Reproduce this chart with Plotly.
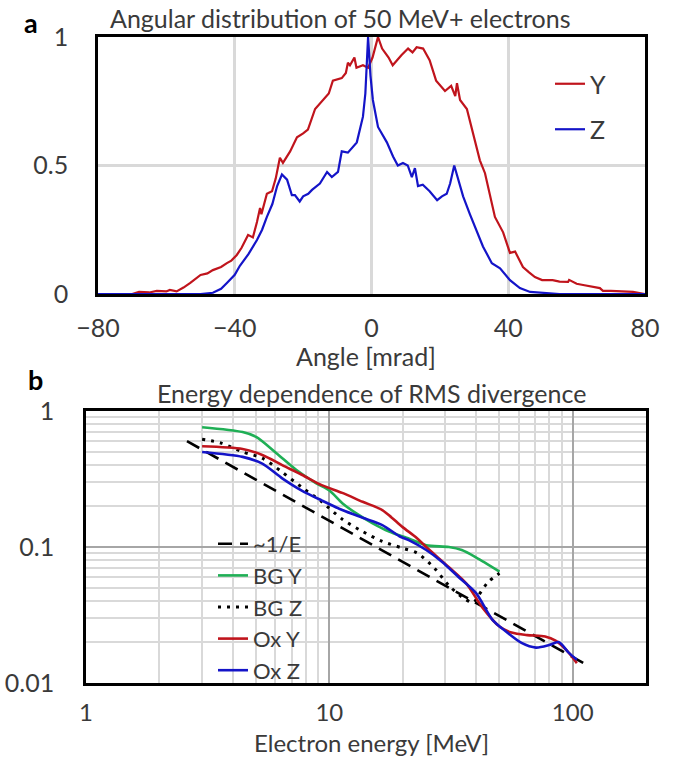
import math
import plotly.graph_objects as go

W, H = 677, 757

# ---------------- Panel a: angular distribution ----------------
angle_y = [-80, -70, -68, -65, -62.8, -60, -59, -57, -55, -53, -50, -48, -46.4, -44, -42.3, -41,
           -39.4, -38, -36.1, -34.7, -33.5, -32.6, -32.2, -30.6, -29.1, -28, -26.8, -25.9, -23.8,
           -21.8, -20, -18.6, -16.5, -14.2, -12.5, -11.3, -8.7, -7.5, -6.9, -6.3, -5, -4.4, -2.5,
           -1, 0.3, 1.9, 3.1, 5, 6.2, 8.8, 10.7, 12, 13.2, 15.1, 17, 18.9, 21.5, 23.3, 24.5, 25,
           25.9, 27.9, 29.7, 31.7, 33.2, 34.6, 36.1, 38.5, 40.5, 42, 44.3, 46, 47.8, 49.9, 53, 55,
           57.5, 57.8, 60, 61.9, 64, 66.8, 67.7, 70, 76.5, 80]
dist_y = [0, 0, 0.008, 0.006, 0.012, 0.01, 0.016, 0.01, 0.025, 0.043, 0.074, 0.08, 0.093, 0.105,
          0.12, 0.13, 0.152, 0.18, 0.23, 0.22, 0.28, 0.335, 0.31, 0.39, 0.40, 0.45, 0.53, 0.51,
          0.555, 0.61, 0.625, 0.64, 0.72, 0.755, 0.78, 0.83, 0.84, 0.86, 0.90, 0.89, 0.92, 0.88,
          0.89, 0.88, 0.92, 1.0, 0.955, 0.92, 0.89, 0.93, 0.955, 0.94, 0.96, 0.955, 0.91, 0.83,
          0.79, 0.81, 0.77, 0.82, 0.755, 0.72, 0.63, 0.52, 0.47, 0.39, 0.30, 0.24, 0.16, 0.165,
          0.105, 0.085, 0.066, 0.054, 0.054, 0.048, 0.047, 0.055, 0.04, 0.035, 0.03, 0.023, 0.012,
          0.012, 0.008, 0]

angle_z = [-80, -50, -46.4, -44, -42.3, -40, -38.5, -36, -33.5, -32, -30.6, -29, -27.6, -26.2,
           -24.7, -23.3, -22.4, -21, -20, -18.5, -17.4, -15.1, -13, -11.6, -9.8, -8.7, -6.9, -4.3,
           -2.5, -1.8, -1, -0.3, 0.4, 1.9, 4.5, 6.3, 7.7, 9.2, 10.6, 11.8, 12.7, 13.6, 15, 17, 19.2,
           20.6, 22, 23, 24.2, 25.3, 26.8, 28.8, 30.8, 32.6, 35.2, 37.6, 40.5, 43.4, 46.4, 52, 55, 80]
dist_z = [0, 0, 0.005, 0.02, 0.043, 0.075, 0.11, 0.155, 0.21, 0.25, 0.30, 0.35, 0.42, 0.465,
          0.445, 0.385, 0.385, 0.36, 0.38, 0.39, 0.405, 0.43, 0.475, 0.455, 0.475, 0.555, 0.55,
          0.59, 0.69, 0.78, 1.0, 0.85, 0.755, 0.65, 0.59, 0.535, 0.50, 0.51, 0.50, 0.455, 0.49,
          0.42, 0.425, 0.40, 0.365, 0.38, 0.39, 0.43, 0.50, 0.445, 0.38, 0.31, 0.24, 0.185, 0.12,
          0.10, 0.054, 0.023, 0.008, 0.003, 0, 0]

a_xticks = [-80, -40, 0, 40, 80]
a_yticks = [0, 0.5, 1]
a_yticktext = ["0", "0.5", "1"]

# ---------------- Panel b: RMS divergence vs energy ----------------
e_inv = [2.6, 115]
div_inv = [0.6, 0.0135]

e_bgy = [3, 4.4, 5.0, 6.06, 7.3, 8.8, 10, 11.3, 13, 15, 17.6, 21.3, 25, 31, 35, 40, 50]
div_bgy = [0.76, 0.70, 0.645, 0.49, 0.37, 0.295, 0.26, 0.21, 0.175, 0.15, 0.13, 0.115, 0.103,
           0.10, 0.095, 0.084, 0.066]

e_bgz = [3, 3.6, 4.4, 5.3, 6.4, 7.7, 9.3, 11.3, 13.7, 16.5, 20, 23, 27, 31, 35, 39, 41, 44.8, 50]
div_bgz = [0.62, 0.58, 0.50, 0.45, 0.355, 0.275, 0.215, 0.16, 0.13, 0.11, 0.098, 0.09, 0.07,
           0.052, 0.043, 0.039, 0.044, 0.055, 0.064]

e_oxy = [3, 4.4, 5.3, 6.4, 7.7, 9.3, 11.3, 13.7, 16.5, 18, 20, 22.8, 25, 31, 36.5, 42.5, 50, 56,
         65, 77, 85, 94, 104]
div_oxy = [0.55, 0.525, 0.475, 0.40, 0.34, 0.285, 0.25, 0.215, 0.187, 0.165, 0.14, 0.117, 0.10,
           0.071, 0.054, 0.036, 0.026, 0.0235, 0.0225, 0.022, 0.0205, 0.0175, 0.014]

e_oxz = [3, 4.4, 5.3, 6.4, 7.7, 9.3, 11.3, 13.7, 16.5, 19.4, 21.3, 25, 29, 34, 40, 46.9, 53, 61.6,
         70.6, 80, 87.5, 96, 104]
div_oxz = [0.50, 0.46, 0.41, 0.32, 0.26, 0.22, 0.187, 0.164, 0.145, 0.12, 0.112, 0.095, 0.078,
           0.06, 0.046, 0.029, 0.024, 0.0197, 0.0182, 0.019, 0.020, 0.0168, 0.0148]

b_xticks = [1, 10, 100]
b_xticktext = ["1", "10", "100"]
b_yticks = [0.01, 0.1, 1]
b_yticktext = ["0.01", "0.1", "1"]

# ---------------- styling ----------------
FONT = "Lato"
TXT = "#3a3a3a"
RED = "#C0141C"
BLUE = "#1414C8"
GREEN = "#1FAF55"
FS = 25
FS_LEG2 = 22


def px(x):
    return x / W


def py(y):
    return 1 - y / H


fig = go.Figure()

fig.add_trace(go.Scatter(x=angle_y, y=dist_y, mode="lines", name="Y",
                         line=dict(color=RED, width=2.2), xaxis="x", yaxis="y",
                         legend="legend", legendgroup="ay"))
fig.add_trace(go.Scatter(x=angle_z, y=dist_z, mode="lines", name="Z",
                         line=dict(color=BLUE, width=2.2), xaxis="x", yaxis="y",
                         legend="legend", legendgroup="az"))

fig.add_trace(go.Scatter(x=e_inv, y=div_inv, mode="lines", name="~1/E",
                         line=dict(color="black", width=2.6, dash="14px,8px"),
                         xaxis="x2", yaxis="y2", legend="legend2"))
fig.add_trace(go.Scatter(x=e_bgy, y=div_bgy, mode="lines", name="BG Y",
                         line=dict(color=GREEN, width=2.6, shape="spline", smoothing=0.8),
                         xaxis="x2", yaxis="y2", legend="legend2"))
fig.add_trace(go.Scatter(x=e_bgz, y=div_bgz, mode="lines", name="BG Z",
                         line=dict(color="black", width=3, dash="3px,6px", shape="spline",
                                   smoothing=0.8),
                         xaxis="x2", yaxis="y2", legend="legend2"))
fig.add_trace(go.Scatter(x=e_oxy, y=div_oxy, mode="lines", name="Ox Y",
                         line=dict(color=RED, width=2.6, shape="spline", smoothing=0.8),
                         xaxis="x2", yaxis="y2", legend="legend2"))
fig.add_trace(go.Scatter(x=e_oxz, y=div_oxz, mode="lines", name="Ox Z",
                         line=dict(color=BLUE, width=2.6, shape="spline", smoothing=0.8),
                         xaxis="x2", yaxis="y2", legend="legend2"))

tickfont = dict(family=FONT, size=FS, color=TXT)

fig.update_layout(
    width=W, height=H,
    margin=dict(l=0, r=0, t=0, b=0, autoexpand=False),
    paper_bgcolor="white", plot_bgcolor="white",
    font=dict(family=FONT, size=FS, color=TXT),
    xaxis=dict(domain=[px(98), px(645)], anchor="y", range=[-80, 80],
               tickmode="array", tickvals=a_xticks, tickfont=tickfont,
               showgrid=True, gridcolor="#D9D9D9", gridwidth=2.5, zeroline=False,
               showline=True, linecolor="black", linewidth=2.5, mirror=True,
               ticks="", ticklabelstandoff=10, automargin=False),
    yaxis=dict(domain=[py(294), py(37)], anchor="x", range=[0, 1],
               tickmode="array", tickvals=a_yticks, ticktext=a_yticktext, tickfont=tickfont,
               showgrid=True, gridcolor="#D9D9D9", gridwidth=2.5, zeroline=False,
               showline=True, linecolor="black", linewidth=2.5, mirror=True,
               ticks="", ticklabelstandoff=22, automargin=False),
    xaxis2=dict(domain=[px(86), px(646)], anchor="y2", type="log",
                range=[0, math.log10(200)],
                tickmode="array", tickvals=b_xticks, ticktext=b_xticktext,
                tickfont=dict(family=FONT, size=24, color=TXT),
                showgrid=True, gridcolor="#A6A6A6", gridwidth=1.6, zeroline=False,
                minor=dict(dtick="D1", showgrid=True, gridcolor="#D9D9D9", gridwidth=2,
                           ticks=""),
                showline=True, linecolor="black", linewidth=2.5, mirror=True,
                ticks="", ticklabelstandoff=6, automargin=False),
    yaxis2=dict(domain=[py(683), py(411)], anchor="x2", type="log", range=[-2, 0],
                tickmode="array", tickvals=b_yticks, ticktext=b_yticktext, tickfont=tickfont,
                showgrid=True, gridcolor="#A6A6A6", gridwidth=1.6, zeroline=False,
                minor=dict(dtick="D1", showgrid=True, gridcolor="#D9D9D9", gridwidth=2,
                           ticks=""),
                showline=True, linecolor="black", linewidth=2.5, mirror=True,
                ticks="", ticklabelstandoff=24, automargin=False),
    legend=dict(x=px(550), y=py(61), xanchor="left", yanchor="top",
                bgcolor="rgba(0,0,0,0)", font=dict(family=FONT, size=FS, color=TXT),
                tracegroupgap=10, itemclick=False),
    legend2=dict(x=px(213), y=py(523), xanchor="left", yanchor="top",
                 bgcolor="rgba(0,0,0,0)", font=dict(family=FONT, size=FS_LEG2, color=TXT),
                 tracegroupgap=0, itemclick=False),
    showlegend=True,
)

ann = [
    dict(text="<b>a</b>", x=px(31), y=py(22), size=27, color="black"),
    dict(text="Angular distribution of 50 MeV+ electrons", x=px(340), y=py(18), size=FS, color=TXT),
    dict(text="Angle [mrad]", x=px(366), y=py(356), size=FS, color=TXT),
    dict(text="<b>b</b>", x=px(35), y=py(379), size=27, color="black"),
    dict(text="Energy dependence of RMS divergence", x=px(371), y=py(393), size=FS, color=TXT),
    dict(text="Electron energy [MeV]", x=px(371), y=py(742), size=24, color=TXT),
]
for a in ann:
    fig.add_annotation(text=a["text"], x=a["x"], y=a["y"], xref="paper", yref="paper",
                       xanchor="center", yanchor="middle", showarrow=False,
                       font=dict(family=FONT, size=a["size"], color=a["color"]))

fig.write_html("out.html", config={"displayModeBar": False},
               post_script="document.body.style.margin='0px';")
